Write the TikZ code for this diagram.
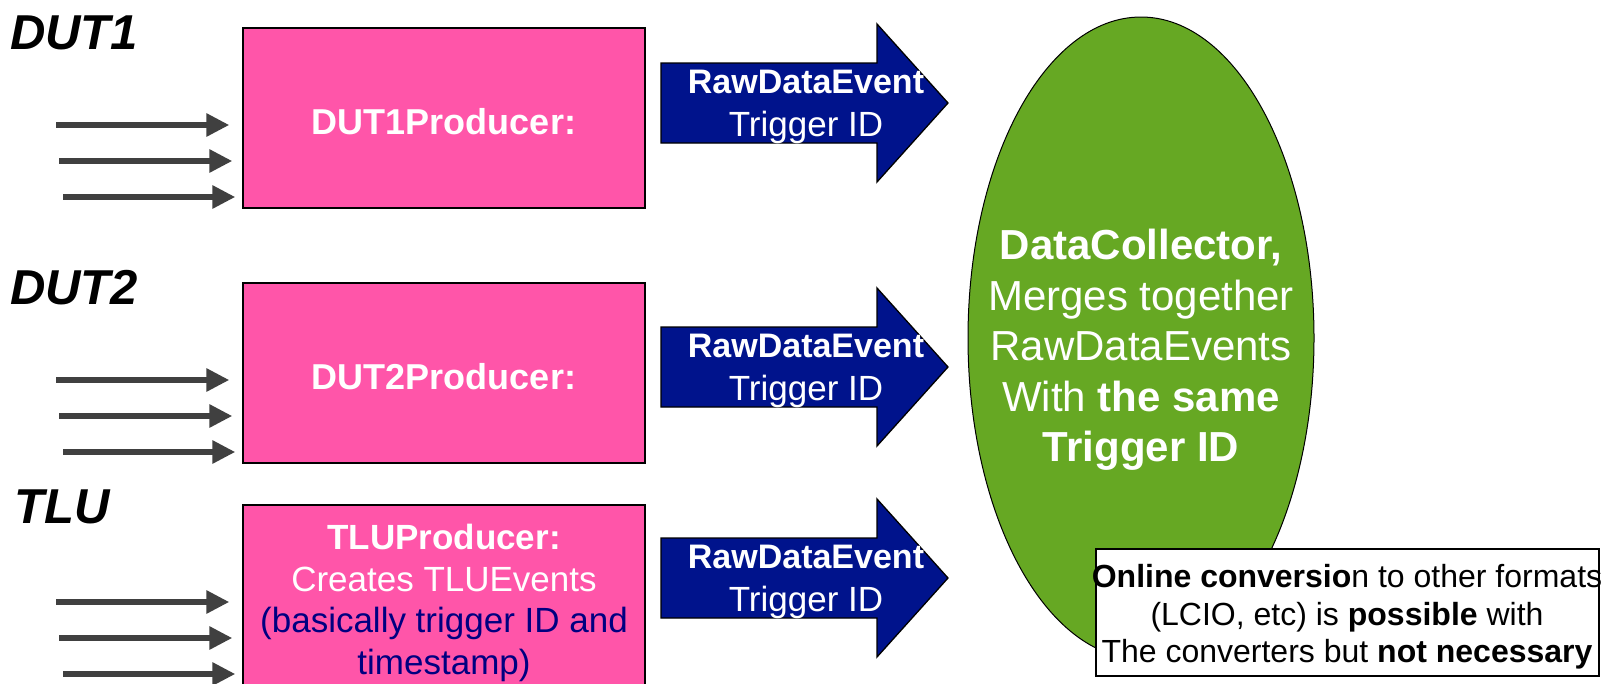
\documentclass[tikz,border=0pt]{standalone}
\usepackage{fontspec}
\setmainfont{Liberation Sans}
\usetikzlibrary{arrows.meta,shapes.geometric}
\definecolor{prodpink}{HTML}{FF55A9}
\definecolor{evblue}{HTML}{00138C}
\definecolor{collgreen}{HTML}{66A823}
\definecolor{feedgray}{HTML}{404040}
\definecolor{notenavy}{HTML}{000080}
\tikzset{
  prodbox/.style={draw=black, line width=1.3pt, fill=prodpink, text=white,
    minimum width=402pt, align=center, inner sep=0pt},
  prodtext/.style={text=white, align=center, inner sep=0pt},
  daqlabel/.style={anchor=west, font=\fontsize{49}{55}\selectfont\bfseries\itshape, inner sep=0pt},
  evtext/.style={text=white, align=center, inner sep=0pt, font=\fontsize{34}{43}\selectfont},
  feed/.style={draw=feedgray, line width=6pt, -{Triangle[length=23pt,width=22pt]}},
  pics/blockarrow/.style={code={
    \filldraw[draw=black, fill=evblue, line width=1.3pt]
      (0,-40) -- (216,-40) -- (216,-79) -- (287,0) -- (216,79) -- (216,40) -- (0,40) -- cycle;}}
}
\begin{document}
\begin{tikzpicture}[x=1pt,y=-1pt]
\clip (0,0) rectangle (1601,683);
\fill[white] (0,0) rectangle (1601,683);

% detector labels
\node[daqlabel] (l1) at (10,33) {DUT1};
\node[daqlabel] (l2) at (10,288) {DUT2};
\node[daqlabel] (l3) at (14,507) {TLU};

% producers
\node[prodbox, minimum height=180pt] (p1) at (444,118) {};
\node[prodtext, font=\fontsize{36}{42}\selectfont\bfseries] (p1t) at (444,122) {DUT1Producer:};
\node[prodbox, minimum height=180pt] (p2) at (444,373) {};
\node[prodtext, font=\fontsize{36}{42}\selectfont\bfseries] (p2t) at (444,377) {DUT2Producer:};
\node[prodbox, minimum height=190pt] (p3) at (444,600) {};
\node[prodtext, font=\fontsize{35}{41.5}\selectfont] (p3t) at (444,603)
  {\textbf{TLUProducer:}\\Creates TLUEvents\\\textcolor{notenavy}{(basically trigger ID and}\\\textcolor{notenavy}{timestamp)}};

% incoming data lines
\foreach \b/\t in {p1/28, p2/283, p3/505} {
  \draw[feed] (56,\t+97) -- ([xshift=-13pt]\b.west |- 0,\t+97);
  \draw[feed] (59,\t+133) -- ([xshift=-10pt]\b.west |- 0,\t+133);
  \draw[feed] (63,\t+169) -- ([xshift=-7pt]\b.west |- 0,\t+169);
}

% data collector
\node[ellipse, draw=black, line width=1pt, fill=collgreen, minimum width=346pt, minimum height=642pt,
  inner sep=0pt] (dc) at (1141,338) {};
\node[text=white, align=center, font=\fontsize{42}{50.5}\selectfont, inner sep=0pt] (dct) at (1141,350)
  {\textbf{DataCollector,}\\Merges together\\RawDataEvents\\With \textbf{the same}\\\textbf{Trigger ID}};

% event arrows
\foreach \n/\y in {1/103, 2/367, 3/578} {
  \pic at (661,\y) {blockarrow};
  \node[evtext] (e\n) at (806,\y+4) {\textbf{RawDataEvent}\\\fontsize{35}{43}\selectfont Trigger ID};
}

% conversion note
\node[draw=black, line width=1.3pt, fill=white, minimum width=503pt, minimum height=127pt, inner sep=0pt] (note) at (1347.5,612.5) {};
\node[align=center, inner sep=0pt, font=\fontsize{32}{37.5}\selectfont] (notet) at (1347,617)
  {\textbf{Online conversio}n to other formats\\(LCIO, etc) is \textbf{possible} with\\The converters but \textbf{not necessary}};
\end{tikzpicture}
\end{document}
